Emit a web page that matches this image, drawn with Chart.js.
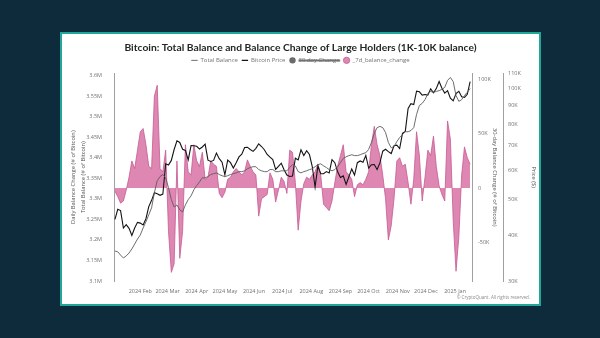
<!DOCTYPE html>
<html>
<head>
<meta charset="utf-8">
<script src="https://cdn.jsdelivr.net/npm/chart.js@4.4.1/dist/chart.umd.min.js"></script>
<style>
  html, body { margin: 0; padding: 0; background: #0e2b3b; }
  body { width: 600px; height: 338px; position: relative; overflow: hidden; }
  .tarjeta { position: absolute; left: 60px; top: 32px; width: 477px; height: 270px; background: #fff; border: 2px solid #1fa89a; }
  canvas { display: block; }
</style>
</head>
<body>
<div class="tarjeta"><canvas id="grafico" width="477" height="270"></canvas></div>
<script>
// Días contados desde el 1 ene 2024; una muestra cada 3 días desde el 5 ene 2024
const diaInicio = 4;
const pasoDias = 3;

const totalBalance = [
  3173000, 3171000, 3163000, 3156000, 3161000, 3168000, 3178000, 3190000, 3202000, 3212000,
  3229000, 3244000, 3261000, 3278000, 3315000, 3344000, 3354000, 3359000, 3351000, 3327000,
  3298000, 3280000, 3285000, 3273000, 3268000, 3285000, 3298000, 3307000, 3322000, 3332000,
  3341000, 3351000, 3351000, 3354000, 3359000, 3361000, 3363000, 3359000, 3356000, 3354000,
  3356000, 3359000, 3361000, 3363000, 3366000, 3366000, 3368000, 3373000, 3376000, 3378000,
  3378000, 3371000, 3368000, 3366000, 3366000, 3371000, 3371000, 3366000, 3366000, 3368000,
  3368000, 3368000, 3376000, 3383000, 3380000, 3366000, 3363000, 3366000, 3368000, 3371000,
  3373000, 3378000, 3383000, 3385000, 3380000, 3376000, 3371000, 3368000, 3371000, 3378000,
  3388000, 3398000, 3402000, 3405000, 3407000, 3405000, 3405000, 3407000, 3410000, 3412000,
  3420000, 3437000, 3459000, 3473000, 3476000, 3473000, 3461000, 3437000, 3424000, 3427000,
  3439000, 3449000, 3456000, 3463000, 3463000, 3466000, 3473000, 3505000, 3527000, 3532000,
  3541000, 3556000, 3561000, 3559000, 3561000, 3563000, 3566000, 3571000, 3588000, 3595000,
  3585000, 3551000, 3537000, 3541000, 3551000, 3559000, 3568000
];

const bitcoinPrice = [
  44100, 47000, 46600, 41800, 42700, 41700, 39900, 41800, 43300,
  43100, 42600, 44300, 47800, 49700, 52100, 51800, 51300, 51700, 62500,
  62000, 63800, 68300, 72100, 71400, 68400, 67900, 64000, 70000, 69900,
  69700, 68500, 69400, 70600, 63900, 63400, 63800, 66800, 64500, 63100,
  58300, 63900, 62900, 60800, 62900, 65200, 66300, 69200, 69300, 68300, 67500,
  68800, 70800, 69600, 68200, 66200, 65100, 64100, 60300, 61500, 62700,
  60200, 58200, 57700, 57900, 64700, 64000, 68200, 65800, 67800, 66200,
  61400, 54000, 61700, 58700, 58700, 59500, 59000, 64100, 62900, 59400,
  57300, 57900, 54900, 57600, 60500, 58200, 62900, 63600, 63100, 65800,
  60800, 62100, 62200, 60300, 62800, 67600, 68400, 67400, 66600, 69900, 70200,
  68700, 75600, 76500, 88300, 91000, 90500, 98400, 98000, 96000, 96400,
  96000, 99900, 97400, 100000, 104500, 100200, 97200, 98700, 94200, 92600,
  96900, 98300, 95000, 94600, 96500, 104400
];

const balanceChange7d = [
  -3000, -8000, -14000, -12000, -2000, 10000, 25000, 18000, 35000, 52000,
  55000, 40000, 20000, 18000, 85000, 95000, 18000, 15000, 35000, -40000,
  -78000, -70000, 25000, -65000, -40000, 40000, 15000, 12000, 40000, 25000,
  20000, 33000, 8000, 10000, 25000, 22000, 20000, -5000, -9000, -4000,
  8000, 10000, 15000, 18000, 15000, 12000, 15000, 26000, 20000, 15000,
  12000, -26000, -10000, -8000, -6000, 14000, 8000, -13000, -2000, 10000,
  6000, -5000, 35000, 33000, 5000, -39000, -12000, 4000, 10000, 8000,
  12000, 15000, 22000, 12000, -15000, -18000, -21000, -12000, 5000, 20000,
  30000, 40000, 15000, 12000, 8000, -8000, 3000, 5000, 3000, 8000,
  15000, 40000, 57000, 40000, 30000, 12000, -10000, -48000, -35000, -10000,
  25000, 28000, 20000, 22000, 5000, -15000, 8000, 52000, 30000, -12000,
  10000, 35000, 30000, 48000, 20000, 2000, -6000, -12000, 62000, 45000,
  -30000, -77000, -45000, 12000, 38000, 28000, 22000
];

// Marcas del eje X (inicio de cada mes) y de los ejes Y
const inicioMes = [31, 60, 91, 121, 152, 182, 213, 244, 274, 305, 335, 366];
const etiquetasMes = ['2024 Feb', '2024 Mar', '2024 Apr', '2024 May', '2024 Jun', '2024 Jul',
  '2024 Aug', '2024 Sep', '2024 Oct', '2024 Nov', '2024 Dec', '2025 Jan'];
const ticksBalance = [3100000, 3150000, 3200000, 3250000, 3300000, 3350000, 3400000, 3450000, 3500000, 3550000, 3600000];
const ticksCambio = [-50000, 0, 50000, 100000];
const ticksPrecio = [30000, 40000, 50000, 60000, 70000, 80000, 90000, 100000, 110000];

const dias = totalBalance.map((v, i) => diaInicio + i * pasoDias);
const puntos = (valores) => valores.map((v, i) => ({ x: dias[i], y: v }));

const fuente = "'Open Sans', sans-serif";
const grisTexto = '#727272';
const grisEje = '#a0a0a0';
const letraTicks = { family: fuente, size: 5.5 };

// Texto de copyright abajo a la derecha
const pieDePagina = {
  id: 'pieDePagina',
  afterDraw(chart) {
    const c = chart.ctx;
    c.save();
    c.font = "4.5px 'Open Sans', sans-serif";
    c.fillStyle = '#8a8a8a';
    c.textAlign = 'right';
    c.textBaseline = 'middle';
    c.fillText('\u00A9 CryptoQuant. All rights reserved.', 468, 264);
    c.restore();
  }
};

const ejeSinRejilla = { display: false, drawTicks: false };

const ctx = document.getElementById('grafico');
new Chart(ctx, {
  type: 'line',
  data: {
    datasets: [
      {
        label: 'Total Balance', data: puntos(totalBalance), yAxisID: 'yBal',
        borderColor: '#5c5c5c', backgroundColor: '#5c5c5c', borderWidth: 0.9,
        pointRadius: 0, pointStyle: 'line', order: 0
      },
      {
        label: 'Bitcoin Price', data: puntos(bitcoinPrice), yAxisID: 'yPrecio',
        borderColor: '#141414', backgroundColor: '#141414', borderWidth: 1.1,
        pointRadius: 0, pointStyle: 'line', order: 0
      },
      {
        label: '30 day Change', data: [], yAxisID: 'yCambio', hidden: true,
        borderColor: '#6b6b6b', backgroundColor: '#6b6b6b', borderWidth: 0,
        pointStyle: 'circle', order: 1
      },
      {
        label: '_7d_balance_change', data: puntos(balanceChange7d), yAxisID: 'yCambio',
        fill: 'origin', backgroundColor: 'rgba(216, 118, 167, 0.88)', borderColor: '#c65a93',
        borderWidth: 0.8, pointRadius: 0, pointStyle: 'circle', order: 1
      }
    ]
  },
  options: {
    responsive: false,
    animation: false,
    devicePixelRatio: 1,
    layout: { padding: 0 },
    plugins: {
      title: {
        display: true,
        text: 'Bitcoin: Total Balance and Balance Change of Large Holders (1K-10K balance)',
        color: '#262626',
        font: { family: "'Lato', sans-serif", size: 10.3, weight: 'bold', lineHeight: 1.2 },
        padding: { top: 7, bottom: 0 }
      },
      legend: {
        labels: {
          usePointStyle: true, boxHeight: 4.5, padding: 4,
          color: grisTexto, font: { family: fuente, size: 6 }
        }
      },
      tooltip: { enabled: false }
    },
    scales: {
      x: {
        type: 'linear', min: 3, max: 384,
        grid: ejeSinRejilla, border: { display: false },
        afterBuildTicks: (s) => { s.ticks = inicioMes.map(v => ({ value: v })); },
        afterFit: (s) => { s.height = 23; },
        ticks: {
          autoSkip: false, maxRotation: 0, padding: 7,
          color: grisTexto, font: letraTicks,
          callback: (v) => etiquetasMes[inicioMes.indexOf(v)] || ''
        }
      },
      yBal: {
        type: 'linear', position: 'left', min: 3100000, max: 3605000,
        grid: ejeSinRejilla, border: { display: true, color: grisEje, width: 1 },
        afterBuildTicks: (s) => { s.ticks = ticksBalance.map(v => ({ value: v })); },
        afterFit: (s) => { s.width = 52; },
        ticks: {
          padding: 12, color: grisTexto, font: letraTicks,
          callback: (v) => parseFloat((v / 1000000).toFixed(2)) + 'M'
        },
        title: {
          display: true,
          text: ['Daily Balance Change (# of Bitcoin)', 'Total Balance (# of Bitcoin)'],
          color: '#555', font: { family: fuente, size: 5.8, lineHeight: 1.75 },
          padding: { top: 6, bottom: 0 }
        }
      },
      yCambio: {
        type: 'linear', position: 'right', weight: 0, min: -86000, max: 106000,
        grid: ejeSinRejilla, border: { display: true, color: grisEje, width: 1 },
        afterBuildTicks: (s) => { s.ticks = ticksCambio.map(v => ({ value: v })); },
        afterFit: (s) => { s.width = 31; },
        ticks: {
          padding: 6, color: grisTexto, font: letraTicks,
          callback: (v) => v === 0 ? '0' : (v / 1000) + 'K'
        },
        title: {
          display: true, text: '30-day Balance Change (# of Bitcoin)',
          color: '#555', font: { family: fuente, size: 5.8, lineHeight: 1.2 },
          padding: { top: 4.4, bottom: 0 }
        }
      },
      yPrecio: {
        type: 'logarithmic', position: 'right', weight: 1, min: 30000, max: 110000,
        grid: ejeSinRejilla, border: { display: true, color: grisEje, width: 1 },
        afterBuildTicks: (s) => { s.ticks = ticksPrecio.map(v => ({ value: v })); },
        afterFit: (s) => { s.width = 36; },
        ticks: {
          padding: 5, color: grisTexto, font: letraTicks,
          callback: (v) => (v / 1000) + 'K'
        },
        title: {
          display: true, text: 'Price ($)',
          color: '#555', font: { family: fuente, size: 5.8, lineHeight: 1.2 },
          padding: { top: 1.4, bottom: 0 }
        }
      }
    }
  },
  plugins: [pieDePagina]
});
</script>
</body>
</html>
